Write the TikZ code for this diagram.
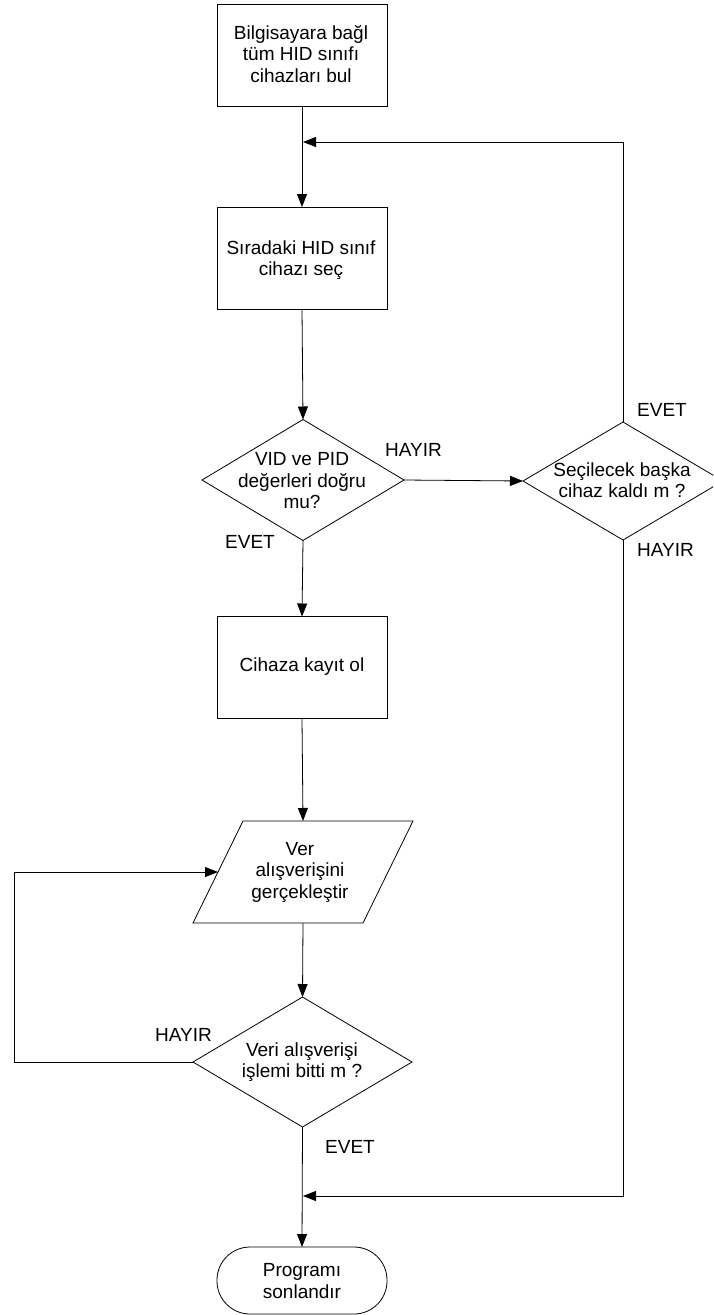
\documentclass[tikz,border=0pt]{standalone}
\usepackage{fontspec}
\setmainfont{Liberation Sans}
\usetikzlibrary{arrows.meta,shapes.geometric}
\begin{document}
\begin{tikzpicture}[x=1pt,y=1pt,
  every node/.style={font=\fontsize{19}{21.5}\selectfont},
  procbox/.style={draw,line width=0.8pt,minimum width=170,minimum height=102,inner sep=0,outer sep=0},
  decide/.style={draw,line width=0.8pt,diamond,inner sep=0,outer sep=0},
  iobox/.style={rectangle,minimum width=170,minimum height=102,inner sep=0,outer sep=0},
  termbox/.style={draw,line width=0.8pt,rectangle,rounded corners=33,minimum width=170,minimum height=67,inner sep=0,outer sep=0},
  txt/.style={align=center,inner sep=0},
  lbl/.style={inner sep=0},
  arr/.style={line width=0.8pt,-{Triangle[width=10pt,length=13pt]}},
  ln/.style={line width=0.8pt}]
\clip (0,0) rectangle (713,-1315);
\useasboundingbox (0,0) rectangle (713,-1315);
\fill[white] (0,0) rectangle (713,-1315);

% shapes
\node[procbox] (b1) at (302,-55) {};
\node[txt] (b1t) at (301,-54) {Bilgisayara bağl\\tüm HID sınıfı\\cihazları bul};
\node[procbox] (b2) at (302,-258) {};
\node[txt] (b2t) at (301,-260) {Sıradaki HID sınıf\\cihazı seç};
\node[decide,minimum width=202,minimum height=121] (d1) at (303,-480) {};
\node[txt] (d1t) at (302,-481) {VID ve PID\\değerleri doğru\\mu?};
\node[decide,minimum width=200,minimum height=118] (d2) at (623,-481) {};
\node[txt] (d2t) at (622,-480) {Seçilecek başka\\cihaz kaldı m ?};
\node[procbox] (b3) at (302,-667.5) {};
\node[txt] (b3t) at (302,-667) {Cihaza kayıt ol};
\node[iobox] (p) at (303,-872) {};
\draw[ln] ([xshift=-25]p.south west) -- ([xshift=-25]p.south east)
   -- ([xshift=25]p.north east) -- ([xshift=25]p.north west) -- cycle;
\node[txt] (pt) at (300,-872) {Ver\\alışverişini\\gerçekleştir};
\node[decide,minimum width=219,minimum height=130] (d3) at (302.5,-1062) {};
\node[txt] (d3t) at (302,-1062) {Veri alışverişi\\işlemi bitti m ?};
\node[termbox] (t) at (302,-1280.5) {};
\node[txt] (tt) at (302,-1281) {Programı\\sonlandır};

% labels
\node[lbl,anchor=west] (l1) at (385,-450) {HAYIR};
\node[lbl,anchor=west] (l2) at (225,-542) {EVET};
\node[lbl,anchor=west] (l3) at (637,-410) {EVET};
\node[lbl,anchor=west] (l4) at (637,-550) {HAYIR};
\node[lbl,anchor=west] (l5) at (155,-1035) {HAYIR};
\node[lbl,anchor=west] (l6) at (325,-1147) {EVET};

% junctions
\coordinate (j1) at (303,-142);
\coordinate (j2) at (303,-1196);
\coordinate (lc) at (14,-872);

% connectors
\draw[arr] (b1.south) -- (b2.north);
\draw[arr] (d2.north) |- (j1);
\draw[arr] (b2.south) -- (d1.north);
\draw[arr] (d1.east) -- (d2.west);
\draw[arr] (d1.south) -- (b3.north);
\draw[arr] (b3.south) -- (p.north);
\draw[arr] (p.south) -- (d3.north);
\draw[arr] (d3.west) -| (lc) -- (p.west);
\draw[arr] (d3.south) -- (t.north);
\draw[arr] (d2.south) |- (j2);
\end{tikzpicture}
\end{document}
